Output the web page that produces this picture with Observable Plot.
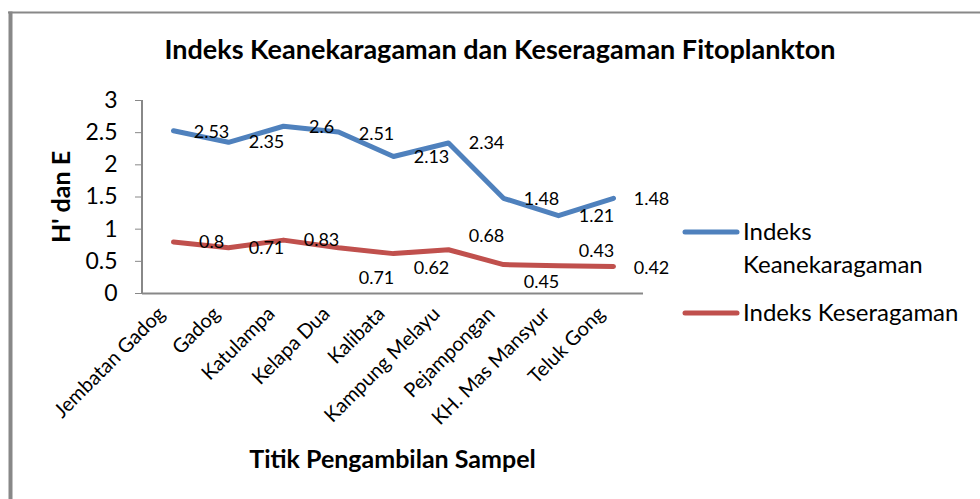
<!DOCTYPE html>
<html><head><meta charset="utf-8">
<script src="https://cdn.jsdelivr.net/npm/d3@7"></script>
<script src="https://cdn.jsdelivr.net/npm/@observablehq/plot@0.6"></script>
<style>body{margin:0;background:#fff;} #chart{width:980px;height:499px;}</style>
</head><body><div id="chart"></div>
<script>
const sites = ["Jembatan Gadog","Gadog","Katulampa","Kelapa Dua","Kalibata","Kampung Melayu","Pejampongan","KH. Mas Mansyur","Teluk Gong"];
const keanekaragaman = [2.53,2.35,2.6,2.51,2.13,2.34,1.48,1.21,1.48];
const keseragaman = [0.8,0.71,0.83,0.71,0.62,0.68,0.45,0.43,0.42];
const yTicks = [0,0.5,1,1.5,2,2.5,3];
const seriesNames = ["Indeks Keanekaragaman","Indeks Keseragaman"];
const colors = ["#4F81BD","#C0504D"];
const titleText = "Indeks Keanekaragaman dan Keseragaman Fitoplankton";
const xTitle = "Titik Pengambilan Sampel";
const yTitle = "H' dan E";

// label placement offsets in px (layout only, as in the original figure)
const labelDy = [[1,0,1,2,1,0,1,1,1],[0,0,0,30,15,-14,18,-15,2]];

const FONT = "Lato, 'Open Sans', sans-serif";
const rows = [];
sites.forEach((s,i)=>{
  rows.push({site:s, series:seriesNames[0], value:keanekaragaman[i], dy:labelDy[0][i]});
  rows.push({site:s, series:seriesNames[1], value:keseragaman[i], dy:labelDy[1][i]});
});

const labelMarks = rows.map(r => Plot.text([r], {x:"site", y:"value", text:d=>String(d.value), dx:38, dy:r.dy, fontSize:18, fill:"#000"}));

const W = 980, H = 499, ML = 142, MR = 337, MT = 100, MB = 206;
const plot = Plot.plot({
  width: W, height: H,
  marginLeft: ML, marginRight: MR, marginTop: MT, marginBottom: MB,
  style: {fontFamily: FONT, color:"#000", background:"#fff", overflow:"visible"},
  x: {type:"point", domain: sites, padding: 0.5},
  y: {domain:[0,3]},
  color: {domain: seriesNames, range: colors},
  marks: [
    Plot.axisY(yTicks, {tickSize:7, tickPadding:18, fontSize:23, stroke:"#888", label:null, tickFormat:d=>String(d)}),
    Plot.axisX({tickSize:0, tickPadding:17, tickRotate:-45, fontSize:20, label:null, dx:-12}),
    Plot.ruleY([0], {stroke:"#888", strokeWidth:2}),
    Plot.line(rows, {x:"site", y:"value", z:"series", stroke:"series", strokeWidth:5, strokeLinejoin:"round", strokeLinecap:"round"}),
    ...labelMarks
  ]
});
document.getElementById("chart").appendChild(plot);

const svg = d3.select(plot);
const y = plot.scale("y");
// y axis line
svg.append("line").attr("x1",ML).attr("x2",ML).attr("y1",y.apply(3)).attr("y2",y.apply(0)).attr("stroke","#888").attr("stroke-width",2);
// border
svg.append("line").attr("x1",8).attr("x2",W).attr("y1",12.5).attr("y2",12.5).attr("stroke","#888").attr("stroke-width",2);
svg.append("line").attr("x1",10.5).attr("x2",10.5).attr("y1",11.5).attr("y2",H).attr("stroke","#888").attr("stroke-width",4);
// title
svg.append("text").attr("x",500).attr("y",59).attr("text-anchor","middle").attr("font-weight","bold").attr("font-size",27).attr("font-family",FONT).attr("fill","#000").text(titleText);
// x title
svg.append("text").attr("x",(ML+W-MR)/2).attr("y",468).attr("text-anchor","middle").attr("font-weight","bold").attr("font-size",25).attr("font-family",FONT).attr("fill","#000").text(xTitle);
// y title
svg.append("text").attr("transform",`translate(70,197) rotate(-90)`).attr("text-anchor","middle").attr("font-weight","bold").attr("font-size",25).attr("font-family",FONT).attr("fill","#000").text(yTitle);
// legend
const lg = svg.append("g").attr("font-family",FONT).attr("font-size",24).attr("fill","#000").attr("text-anchor","start");
lg.append("line").attr("x1",685).attr("x2",737).attr("y1",232).attr("y2",232).attr("stroke",colors[0]).attr("stroke-width",5).attr("stroke-linecap","round");
lg.append("text").attr("x",743).attr("y",240).text("Indeks");
lg.append("text").attr("x",743).attr("y",273).text("Keanekaragaman");
lg.append("line").attr("x1",685).attr("x2",737).attr("y1",313).attr("y2",313).attr("stroke",colors[1]).attr("stroke-width",5).attr("stroke-linecap","round");
lg.append("text").attr("x",743).attr("y",321).text(seriesNames[1]);
</script>
</body></html>
